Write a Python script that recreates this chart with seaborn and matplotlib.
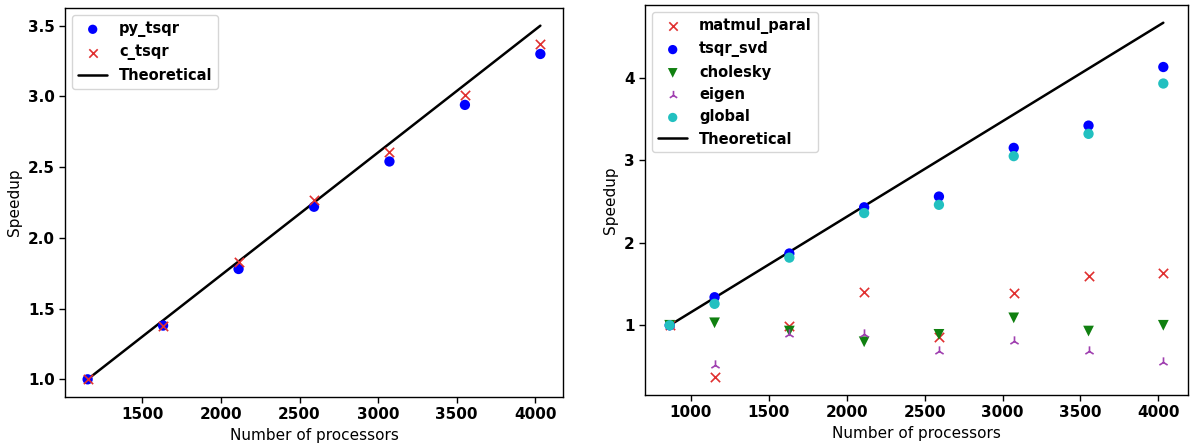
import numpy as np
import pandas as pd
import matplotlib
matplotlib.use("Agg")
import matplotlib.pyplot as plt
import seaborn as sns

# Left panel data
procs_left = [1152, 1632, 2112, 2592, 3072, 3552, 4032]
py_tsqr = [1.0, 1.38, 1.78, 2.22, 2.54, 2.94, 3.30]
c_tsqr = [1.0, 1.38, 1.83, 2.27, 2.61, 3.01, 3.37]

# Right panel data
procs_right = [864, 1152, 1632, 2112, 2592, 3072, 3552, 4032]
matmul_paral = [1.0, 0.37, 0.99, 1.40, 0.86, 1.39, 1.60, 1.63]
tsqr_svd = [1.0, 1.34, 1.87, 2.43, 2.56, 3.15, 3.42, 4.13]
cholesky = [1.0, 1.03, 0.93, 0.80, 0.89, 1.09, 0.93, 1.00]
eigen = [1.0, 0.52, 0.90, 0.89, 0.69, 0.81, 0.69, 0.56]
global_ = [1.0, 1.26, 1.82, 2.36, 2.46, 3.05, 3.32, 3.93]

sns.set_theme(style="ticks")
plt.rcParams["font.family"] = ["DejaVu Sans"]
plt.rcParams["font.size"] = 11
for k in ["text.color", "axes.labelcolor", "xtick.color", "ytick.color"]:
    plt.rcParams[k] = "black"

fig = plt.figure(figsize=(11.92, 4.43), dpi=100)
ax1 = fig.add_axes([65/1192, 1-397/443, (563-65)/1192, (397-8)/443])
ax2 = fig.add_axes([645/1192, 1-395/443, (1188-645)/1192, (395-5)/443])

def theo(p):
    return [x / p[0] for x in p]

sns.scatterplot(x=procs_left, y=py_tsqr, ax=ax1, color="#0000ff", marker="o", s=55,
                edgecolor="none", label="py_tsqr", zorder=3)
sns.scatterplot(x=procs_left, y=c_tsqr, ax=ax1, color="#e03030", marker="x", s=45,
                linewidth=1.2, label="c_tsqr", zorder=3)
sns.lineplot(x=procs_left, y=theo(procs_left), ax=ax1, color="black", linewidth=1.8,
             label="Theoretical", zorder=2)

sns.scatterplot(x=procs_right, y=matmul_paral, ax=ax2, color="#e03030", marker="x", s=45,
                linewidth=1.2, label="matmul_paral", zorder=3)
sns.scatterplot(x=procs_right, y=tsqr_svd, ax=ax2, color="#0000ff", marker="o", s=55,
                edgecolor="none", label="tsqr_svd", zorder=3)
sns.scatterplot(x=procs_right, y=cholesky, ax=ax2, color="#108010", marker="v", s=60,
                edgecolor="none", label="cholesky", zorder=3)
sns.scatterplot(x=procs_right, y=eigen, ax=ax2, color="#a040b0", marker="2", s=55,
                linewidth=1.2, label="eigen", zorder=3)
sns.scatterplot(x=procs_right, y=global_, ax=ax2, color="#22c0c0", marker="o", s=55,
                edgecolor="none", label="global", zorder=3)
sns.lineplot(x=procs_right, y=theo(procs_right), ax=ax2, color="black", linewidth=1.8,
             label="Theoretical", zorder=2)

ax1.set_yticks([1.0, 1.5, 2.0, 2.5, 3.0, 3.5])
ax1.set_xticks([1500, 2000, 2500, 3000, 3500, 4000])
ax2.set_yticks([1, 2, 3, 4])
ax2.set_xticks([1000, 1500, 2000, 2500, 3000, 3500, 4000])

for ax in (ax1, ax2):
    ax.set_xlabel("Number of processors", fontsize=11)
    ax.set_ylabel("Speedup", fontsize=11)
    for lab in ax.get_xticklabels() + ax.get_yticklabels():
        lab.set_fontweight("bold")
        lab.set_fontsize(11)
    ax.tick_params(direction="out", length=4, width=1, colors="black")
    for sp in ax.spines.values():
        sp.set_linewidth(1.0)
        sp.set_color("black")
    leg = ax.legend(loc="upper left", prop={"weight": "bold", "size": 10.5},
                    frameon=True, handlelength=2.0, markerscale=0.9)
    for t in leg.get_texts():
        t.set_color("black")

fig.savefig("out.png", dpi=100)
